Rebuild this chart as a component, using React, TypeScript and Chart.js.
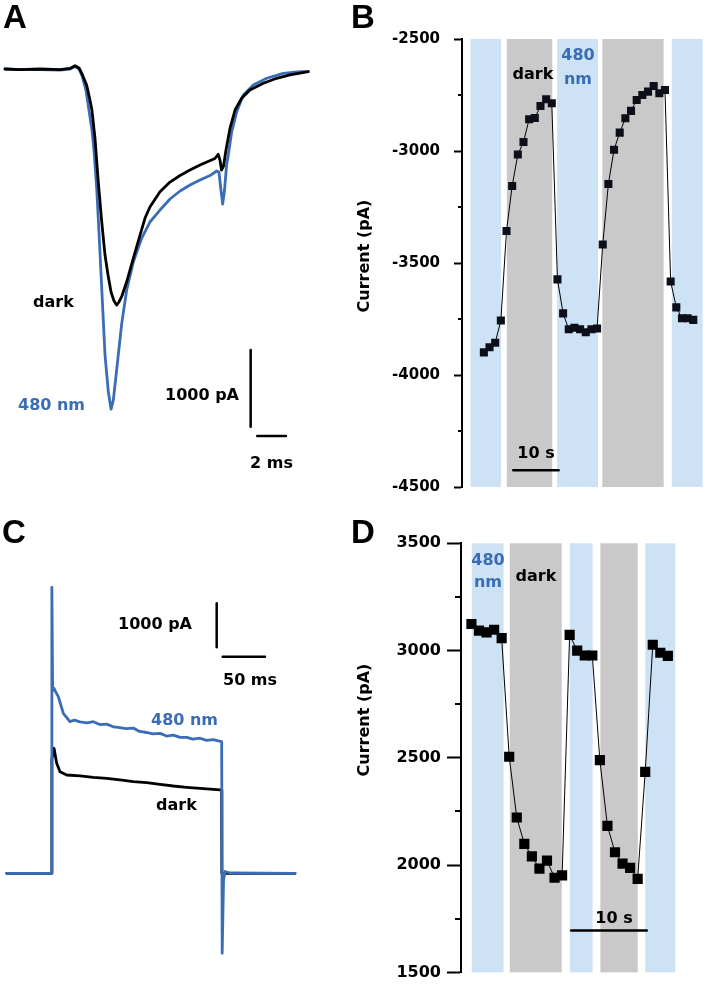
import React, { useEffect, useRef } from 'react';
import { Chart, registerables } from 'chart.js';

Chart.register(...registerables);

const W = 709;
const H = 988;

const BLUE = '#3a6db5';
const LIGHT_BLUE = '#cde2f4';
const GRAY = '#c9c9c9';
const FONT = 'bold 16px "DejaVu Sans"';
const LETTER_FONT = 'bold 33px "Liberation Sans"';

// ---------- Panel A: Na current traces (ms, pA) ----------
const A_DARK_T = [0, 1.05, 2.44, 3.83, 4.53, 4.88, 5.16, 5.37, 5.69, 5.92, 6.06, 6.27, 6.5, 6.74, 6.97, 7.18, 7.39, 7.6, 7.78, 7.94, 8.13, 8.48, 8.94, 9.41, 9.76, 10.1, 10.8, 11.5, 12.2, 12.89, 13.59, 14.15, 14.63, 14.86, 14.98, 15.09, 15.23, 15.4, 15.68, 16.03, 16.49, 17.07, 18.0, 18.93, 19.86, 21.14];
const A_DARK_PA = [0, -7, 0, -7, 7, 43, 13, -65, -209, -404, -535, -900, -1470, -1991, -2426, -2686, -2908, -3026, -3078, -3038, -2969, -2774, -2468, -2165, -1943, -1799, -1600, -1474, -1389, -1317, -1252, -1206, -1167, -1112, -1187, -1317, -1265, -1056, -773, -535, -382, -274, -186, -121, -78, -35];
const A_480_T = [0, 1.05, 2.44, 3.83, 4.53, 4.88, 5.16, 5.37, 5.64, 5.85, 6.06, 6.2, 6.39, 6.57, 6.74, 6.97, 7.2, 7.39, 7.55, 7.78, 8.13, 8.48, 8.94, 9.53, 10.1, 10.8, 11.5, 12.2, 12.89, 13.59, 14.29, 14.75, 14.91, 15.05, 15.17, 15.3, 15.44, 15.56, 15.8, 16.15, 16.61, 17.3, 18.24, 19.39, 20.56, 21.14];
const A_480_PA = [0, -7, -7, -13, 0, 33, 0, -91, -274, -535, -795, -1056, -1552, -2204, -2856, -3729, -4208, -4434, -4316, -3925, -3325, -2882, -2517, -2204, -1995, -1839, -1695, -1591, -1513, -1448, -1389, -1330, -1343, -1578, -1760, -1578, -1252, -1121, -818, -557, -339, -209, -121, -56, -33, -35];
const A_BAR_T = 17.12; // ms
const A_BAR_TOP = -3664; // pA
const A_BAR_PA = 1000;
const A_HBAR_T = 17.58;
const A_HBAR_PA = -4786;
const A_BAR_MS = 2;

// ---------- Panel B: current vs time (dark / 480 nm) ----------
const B_SAMPLE_S = 1.25;
const B_CURRENT = [-3899, -3876, -3856, -3757, -3357, -3156, -3016, -2960, -2858, -2853, -2799, -2769, -2787, -3573, -3725, -3796, -3789, -3796, -3809, -3796, -3792, -3417, -3147, -2994, -2918, -2854, -2821, -2772, -2750, -2735, -2710, -2742, -2728, -3583, -3698, -3747, -3747, -3754];
const B_BAND_START = [-2.95, 5.07, 16.18, 26.15, 41.5];
const B_BAND_END = [3.77, 15.1, 25.2, 39.7, 48.3];
const B_BAND_KIND = ['480', 'dark', '480', 'dark', '480'];
const B_Y_MIN = -4500;
const B_Y_MAX = -2500;
const B_BAR_START = 6.5;
const B_BAR_S = 10;
const B_BAR_PA = -4425;

// ---------- Panel C: K current traces (ms, pA) ----------
const C_480_T = [0, 53.2, 53.4, 54.3, 55.9, 58.0, 61.0, 66.9, 74.8, 80.0, 86.6, 95.0, 102.4, 110.0, 118.2, 126.0, 133.9, 141.0, 149.6, 157.0, 165.5, 173.0, 181.2, 189.0, 196.9, 205.0, 212.8, 220.0, 228.5, 236.0, 244.2, 250.0, 254.1, 254.7, 256.3, 258.1, 264.0, 340.8];
const C_480_PA = [0, 0, 6500, 4150, 4204, 4120, 4014, 3637, 3446, 3480, 3440, 3420, 3445, 3380, 3390, 3330, 3310, 3290, 3300, 3225, 3200, 3170, 3180, 3120, 3140, 3090, 3090, 3050, 3070, 3020, 3040, 3010, 2992, -1818, -152, 41, 7, 0];
const C_DARK_T = [0, 53.2, 53.4, 55.9, 59.1, 63.0, 70.9, 86.6, 102.4, 118.2, 133.9, 149.6, 165.5, 181.2, 196.9, 212.8, 228.5, 244.2, 252.1, 254.1, 254.3, 340.8];
const C_DARK_PA = [0, 0, 2600, 2841, 2500, 2309, 2234, 2212, 2182, 2159, 2121, 2082, 2060, 2023, 1984, 1955, 1932, 1909, 1894, 1890, 0, 0];
const C_BAR_T = 248.2;
const C_BAR_TOP = 6137;
const C_BAR_PA = 1000;
const C_HBAR_T = 255.3;
const C_HBAR_PA = 4923;
const C_BAR_MS = 50;

// ---------- Panel D: current vs time ----------
const D_SAMPLE_S = 1.0;
const D_CURRENT = [3124, 3093, 3085, 3097, 3058, 2505, 2222, 2099, 2041, 1984, 2021, 1941, 1952, 3073, 3000, 2977, 2977, 2489, 2183, 2060, 2007, 1987, 1936, 2435, 3027, 2990, 2975];
const D_BAND_START = [0.04, 5.07, 13.03, 17.07, 23.0];
const D_BAND_END = [4.26, 11.95, 16.04, 22.01, 26.97];
const D_BAND_KIND = ['480', 'dark', '480', 'dark', '480'];
const D_Y_MIN = 1500;
const D_Y_MAX = 3500;
const D_BAR_START = 13.2;
const D_BAR_S = 10;
const D_BAR_PA = 1695;

type Txt = {
  text: string;
  x: number;
  y: number;
  align?: CanvasTextAlign;
  baseline?: CanvasTextBaseline;
  color?: string;
  font?: string;
  rotate?: boolean;
};

const textPlugin = (items: Txt[]) => ({
  id: 'texts',
  afterDraw(chart: any) {
    const ctx = chart.ctx as CanvasRenderingContext2D;
    for (const t of items) {
      ctx.save();
      ctx.font = t.font ?? FONT;
      ctx.fillStyle = t.color ?? '#000';
      ctx.textAlign = t.align ?? 'left';
      ctx.textBaseline = t.baseline ?? 'alphabetic';
      if (t.rotate) {
        ctx.translate(t.x, t.y);
        ctx.rotate(-Math.PI / 2);
        ctx.fillText(t.text, 0, 0);
      } else {
        ctx.fillText(t.text, t.x, t.y);
      }
      ctx.restore();
    }
  },
});

const bandsPlugin = (starts: number[], ends: number[], kinds: string[]) => ({
  id: 'bands',
  beforeDatasetsDraw(chart: any) {
    const { ctx, chartArea } = chart;
    const x = chart.scales.x;
    ctx.save();
    starts.forEach((s, i) => {
      const x0 = x.getPixelForValue(s);
      const x1 = x.getPixelForValue(ends[i]);
      ctx.fillStyle = kinds[i] === 'dark' ? GRAY : LIGHT_BLUE;
      ctx.fillRect(x0, chartArea.top, x1 - x0, chartArea.bottom - chartArea.top);
    });
    ctx.restore();
  },
});

const minorTicksPlugin = (len: number) => ({
  id: 'minorTicks',
  afterDraw(chart: any) {
    const s = chart.scales.y;
    const ctx = chart.ctx as CanvasRenderingContext2D;
    const left = chart.chartArea.left;
    ctx.save();
    ctx.strokeStyle = '#000';
    ctx.lineWidth = 2;
    for (const t of s.ticks) {
      if (Math.abs(t.value % 500) > 1e-6) {
        const y = Math.round(s.getPixelForValue(t.value));
        ctx.beginPath();
        ctx.moveTo(left - len, y);
        ctx.lineTo(left, y);
        ctx.stroke();
      }
    }
    ctx.restore();
  },
});

const xy = (xs: number[], ys: number[]) => xs.map((x, i) => ({ x, y: ys[i] }));

const traceDs = (data: any[], color: string, width = 2.8) => ({
  data,
  borderColor: color,
  borderWidth: width,
  pointRadius: 0,
  tension: 0,
  fill: false,
  borderJoinStyle: 'round',
  borderCapStyle: 'round',
});

const hiddenLinear = (min: number, max: number) => ({
  type: 'linear',
  display: false,
  min,
  max,
});

const baseOptions = {
  responsive: false,
  animation: false,
  devicePixelRatio: 1,
  events: [],
  plugins: { legend: { display: false }, tooltip: { enabled: false } },
};

function makeA(canvas: HTMLCanvasElement) {
  return new Chart(canvas, {
    type: 'line',
    data: {
      datasets: [
        traceDs(xy(A_DARK_T, A_DARK_PA), '#000'),
        traceDs(xy(A_480_T, A_480_PA), BLUE),
        traceDs([{ x: A_BAR_T, y: A_BAR_TOP }, { x: A_BAR_T, y: A_BAR_TOP - A_BAR_PA }], '#000', 2.5),
        traceDs([{ x: A_HBAR_T, y: A_HBAR_PA }, { x: A_HBAR_T + A_BAR_MS, y: A_HBAR_PA }], '#000', 2.5),
      ] as any,
    },
    options: {
      ...baseOptions,
      layout: { padding: 0 },
      scales: {
        x: hiddenLinear(-0.348, 49.06),
        y: hiddenLinear(-11982, 899.6),
      },
    } as any,
    plugins: [
      textPlugin([
        { text: 'A', x: 3, y: 28, font: LETTER_FONT },
        { text: 'dark', x: 33, y: 307 },
        { text: '480 nm', x: 18, y: 410, color: BLUE },
        { text: '1000 pA', x: 239, y: 400, align: 'right' },
        { text: '2 ms', x: 250, y: 468 },
      ]),
    ],
  });
}

function yAxis(min: number, max: number, tickLen: number, pad: number, size: number) {
  return {
    type: 'linear',
    min,
    max,
    afterFit: (s: any) => {
      s.width = 111;
    },
    ticks: {
      stepSize: 250,
      autoSkip: false,
      padding: pad,
      color: '#000',
      font: { family: 'DejaVu Sans', weight: 'bold', size },
      callback: (v: number) => (Math.abs(v % 500) < 1e-6 ? String(v) : ''),
    },
    grid: {
      drawOnChartArea: false,
      drawTicks: true,
      tickLength: tickLen,
      tickWidth: 2,
      tickColor: (c: any) => (c.tick && Math.abs(c.tick.value % 500) < 1e-6 ? '#000' : 'rgba(0,0,0,0)'),
    },
    border: { display: true, color: '#000', width: 2 },
  };
}

function makeB(canvas: HTMLCanvasElement) {
  return new Chart(canvas, {
    type: 'line',
    data: {
      datasets: [
        {
          data: B_CURRENT.map((v, i) => ({ x: i * B_SAMPLE_S, y: v })),
          borderColor: '#000',
          borderWidth: 1,
          pointStyle: 'rect',
          pointRadius: 5.7,
          pointBackgroundColor: '#0c0f1a',
          pointBorderWidth: 0,
          tension: 0,
        },
        traceDs([{ x: B_BAR_START, y: B_BAR_PA }, { x: B_BAR_START + B_BAR_S, y: B_BAR_PA }], '#000', 2.5),
      ] as any,
    },
    options: {
      ...baseOptions,
      layout: { padding: { left: 351, top: 39, right: 1, bottom: 501 } },
      scales: {
        x: hiddenLinear(-4.83, 48.46),
        y: yAxis(B_Y_MIN, B_Y_MAX, 8, 14, 15),
      },
    } as any,
    plugins: [
      bandsPlugin(B_BAND_START, B_BAND_END, B_BAND_KIND),
      minorTicksPlugin(4),
      textPlugin([
        { text: 'B', x: 351, y: 28, font: LETTER_FONT },
        { text: 'dark', x: 533, y: 79, align: 'center' },
        { text: '480', x: 578, y: 60, align: 'center', color: BLUE },
        { text: 'nm', x: 578, y: 84, align: 'center', color: BLUE },
        { text: '10 s', x: 536, y: 458, align: 'center' },
        { text: 'Current (pA)', x: 365, y: 256, align: 'center', baseline: 'middle', rotate: true },
      ]),
    ],
  });
}

function makeC(canvas: HTMLCanvasElement) {
  return new Chart(canvas, {
    type: 'line',
    data: {
      datasets: [
        traceDs(xy(C_480_T, C_480_PA), BLUE),
        traceDs(xy(C_DARK_T, C_DARK_PA), '#000'),
        traceDs([{ x: C_BAR_T, y: C_BAR_TOP }, { x: C_BAR_T, y: C_BAR_TOP - C_BAR_PA }], '#000', 2.5),
        traceDs([{ x: C_HBAR_T, y: C_HBAR_PA }, { x: C_HBAR_T + C_BAR_MS, y: C_HBAR_PA }], '#000', 2.5),
      ] as any,
    },
    options: {
      ...baseOptions,
      layout: { padding: 0 },
      scales: {
        x: hiddenLinear(-7.92, 830.1),
        y: hiddenLinear(-2607, 19848),
      },
    } as any,
    plugins: [
      textPlugin([
        { text: 'C', x: 2, y: 543, font: LETTER_FONT },
        { text: '1000 pA', x: 192, y: 629, align: 'right' },
        { text: '50 ms', x: 223, y: 685 },
        { text: '480 nm', x: 151, y: 725, color: BLUE },
        { text: 'dark', x: 156, y: 810 },
      ]),
    ],
  });
}

function makeD(canvas: HTMLCanvasElement) {
  return new Chart(canvas, {
    type: 'line',
    data: {
      datasets: [
        {
          data: D_CURRENT.map((v, i) => ({ x: i * D_SAMPLE_S, y: v })),
          borderColor: '#000',
          borderWidth: 1,
          pointStyle: 'rect',
          pointRadius: 7.2,
          pointBackgroundColor: '#000',
          pointBorderWidth: 0,
          tension: 0,
        },
        traceDs([{ x: D_BAR_START, y: D_BAR_PA }, { x: D_BAR_START + D_BAR_S, y: D_BAR_PA }], '#000', 2.5),
      ] as any,
    },
    options: {
      ...baseOptions,
      layout: { padding: { left: 350, top: 543.3, right: 1, bottom: 10.7 } },
      scales: {
        x: hiddenLinear(-1.38, 30.49),
        y: yAxis(D_Y_MIN, D_Y_MAX, 14, 6, 16),
      },
    } as any,
    plugins: [
      bandsPlugin(D_BAND_START, D_BAND_END, D_BAND_KIND),
      minorTicksPlugin(6),
      textPlugin([
        { text: 'D', x: 351, y: 543, font: LETTER_FONT },
        { text: '480', x: 488, y: 565, align: 'center', color: BLUE },
        { text: 'nm', x: 488, y: 587, align: 'center', color: BLUE },
        { text: 'dark', x: 536, y: 581, align: 'center' },
        { text: '10 s', x: 614, y: 923, align: 'center' },
        { text: 'Current (pA)', x: 365, y: 720, align: 'center', baseline: 'middle', rotate: true },
      ]),
    ],
  });
}

export default function App() {
  const aRef = useRef<HTMLCanvasElement>(null);
  const bRef = useRef<HTMLCanvasElement>(null);
  const cRef = useRef<HTMLCanvasElement>(null);
  const dRef = useRef<HTMLCanvasElement>(null);

  useEffect(() => {
    const charts = [
      makeA(aRef.current!),
      makeB(bRef.current!),
      makeC(cRef.current!),
      makeD(dRef.current!),
    ];
    return () => charts.forEach((c) => c.destroy());
  }, []);

  const cs: React.CSSProperties = { position: 'absolute', left: 0, top: 0, width: W, height: H };
  return (
    <div style={{ position: 'absolute', left: 0, top: 0, width: W, height: H, background: '#fff', overflow: 'hidden' }}>
      <canvas ref={aRef} width={W} height={H} style={cs} />
      <canvas ref={bRef} width={W} height={H} style={cs} />
      <canvas ref={cRef} width={W} height={H} style={cs} />
      <canvas ref={dRef} width={W} height={H} style={cs} />
    </div>
  );
}
